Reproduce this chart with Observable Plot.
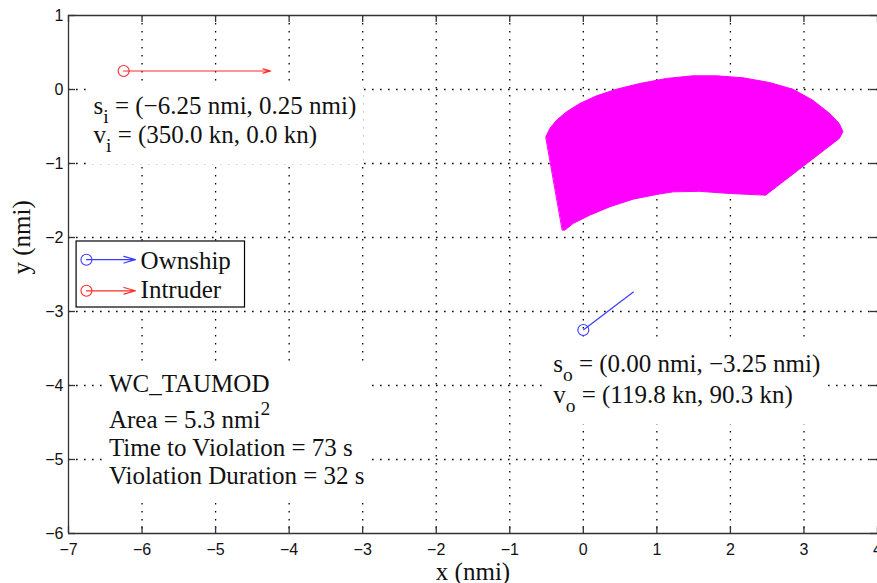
<!DOCTYPE html>
<html>
<head>
<meta charset="utf-8">
<script src="https://cdn.jsdelivr.net/npm/d3@7"></script>
<script src="https://cdn.jsdelivr.net/npm/@observablehq/plot@0.6"></script>
<style>
  html, body { margin: 0; padding: 0; background: #fff; }
  #chart { width: 877px; height: 583px; overflow: hidden; }
</style>
</head>
<body>
<div id="chart"></div>
<script>
// ---------- data ----------
const xTicks = [-7, -6, -5, -4, -3, -2, -1, 0, 1, 2, 3, 4];
const yTicks = [-6, -5, -4, -3, -2, -1, 0, 1];

// predicted violation region (nmi), traced clockwise from the upper-left corner
const regionX = [-0.509, -0.455, -0.364, -0.228, -0.048, 0.179, 0.451, 0.767, 1.13, 1.49, 1.81, 2.17, 2.53, 2.85,
                 3.12, 3.35, 3.48, 3.53, 3.48,
                 2.478, 1.99, 1.58, 1.22, 0.994, 0.676, 0.36, 0.088, -0.139, -0.251, -0.283];
const regionY = [-0.64, -0.527, -0.415, -0.302, -0.189, -0.086, 0.004, 0.081, 0.149, 0.185, 0.185, 0.158, 0.095, 0.004,
                 -0.145, -0.324, -0.46, -0.572, -0.662,
                 -1.428, -1.405, -1.376, -1.383, -1.419, -1.482, -1.585, -1.698, -1.81, -1.90, -1.90];

const aircraft = ["Ownship", "Intruder"];
const posX = [0.00, -6.25];
const posY = [-3.25, 0.25];
const velX = [119.8, 350.0];
const velY = [90.3, 0.0];
const arrowNmiPerKn = 2.0 / 350; // drawn velocity vector length (nmi per kn)

const intruderNote = ["s_{i} = (−6.25 nmi, 0.25 nmi)", "v_{i} = (350.0 kn, 0.0 kn)"];
const ownshipNote = ["s_{o} = (0.00 nmi, −3.25 nmi)", "v_{o} = (119.8 kn, 90.3 kn)"];
const metricNote = ["WC_TAUMOD", "Area = 5.3 nmi^{2}", "Time to Violation = 73 s", "Violation Duration = 32 s"];

// ---------- derived tables ----------
const region = regionX.map((x, i) => ({x, y: regionY[i]}));
const planes = aircraft.map((name, i) => ({
  name, x: posX[i], y: posY[i],
  x2: posX[i] + velX[i] * arrowNmiPerKn,
  y2: posY[i] + velY[i] * arrowNmiPerKn,
  color: name === "Ownship" ? "#3b3bff" : "#ff2a2a"
}));
const fmt = d => d < 0 ? "−" + Math.abs(d) : String(d);

// annotation anchors (data coordinates, left/baseline)
const noteRows = (lines, x, ys) => lines.map((t, i) => ({t, x, y: ys[i]}));
const intruderRows = noteRows(intruderNote, -6.66, [-0.333, -0.727]);
const ownshipRows = noteRows(ownshipNote, -0.41, [-3.82, -4.24]);
const metricRows = noteRows(metricNote, -6.45, [-4.09, -4.57, -4.95, -5.33]);

// legend (data coordinates inside the axes)
const legendRows = aircraft.map((name, i) => ({
  name, color: planes[i].color,
  y: [-2.30, -2.72][i], ty: [-2.42, -2.82][i]
}));

const W = 877, H = 583, mL = 68, mR = 0, mT = 15, mB = 50;
const innerW = W - mL - mR, innerH = H - mT - mB, tick = 7;
const serif = "Liberation Serif, Times New Roman, serif";
const sans = "Liberation Sans, Arial, Helvetica, sans-serif";
const fsNote = 25;

const chart = Plot.plot({
  width: W, height: H,
  marginLeft: mL, marginRight: mR, marginTop: mT, marginBottom: mB,
  x: {domain: [-7, 4], axis: null},
  y: {domain: [-6, 1], axis: null},
  style: {fontFamily: sans, fontSize: "16px", background: "#fff", overflow: "visible"},
  marks: [
    // dotted grid
    Plot.ruleX(xTicks.slice(1, -1), {stroke: "#000", strokeWidth: 1.3, strokeDasharray: "1.6,6.4"}),
    Plot.ruleY(yTicks.slice(1, -1), {stroke: "#000", strokeWidth: 1.3, strokeDasharray: "1.6,6.4"}),
    // violation region
    Plot.line(region, {x: "x", y: "y", curve: "linear-closed", fill: "#ff00ff", stroke: "#ff00ff", strokeWidth: 1, strokeLinejoin: "round"}),
    // velocity vectors
    Plot.arrow(planes.filter(d => d.name === "Intruder"), {x1: "x", y1: "y", x2: "x2", y2: "y2", stroke: "color", strokeWidth: 1.2, headLength: 10, headAngle: 30}),
    Plot.link(planes.filter(d => d.name === "Ownship"), {x1: "x", y1: "y", x2: "x2", y2: "y2", stroke: "color", strokeWidth: 1.2}),
    Plot.dot(planes, {x: "x", y: "y", r: 5.5, stroke: "color", fill: "none", strokeWidth: 1.1}),
    // annotation blocks
    Plot.text(intruderRows, {x: "x", y: "y", text: "t", textAnchor: "start", lineAnchor: "bottom", fontFamily: serif, fontSize: fsNote, fill: "#111", ariaDescription: "note-box"}),
    Plot.text(ownshipRows, {x: "x", y: "y", text: "t", textAnchor: "start", lineAnchor: "bottom", fontFamily: serif, fontSize: fsNote, fill: "#111", ariaDescription: "note-box"}),
    Plot.text(metricRows, {x: "x", y: "y", text: "t", textAnchor: "start", lineAnchor: "bottom", fontFamily: serif, fontSize: fsNote, fill: "#111", ariaDescription: "note-box"}),
    // legend
    Plot.rect([0], {x1: -6.89, x2: -4.60, y1: -2.054, y2: -2.946, fill: "#fff", stroke: "#000", strokeWidth: 1.2}),
    Plot.arrow(legendRows, {x1: -6.756, x2: -6.09, y1: "y", y2: "y", stroke: "color", strokeWidth: 1.2, headLength: 15, headAngle: 32}),
    Plot.dot(legendRows, {x: -6.756, y: "y", r: 5.5, stroke: "color", fill: "none", strokeWidth: 1.1}),
    Plot.text(legendRows, {x: -6.02, y: "ty", text: "name", textAnchor: "start", lineAnchor: "bottom", fontFamily: serif, fontSize: fsNote, fill: "#111"}),
    // axes box (left, top, bottom)
    Plot.ruleX([-7], {stroke: "#333", strokeWidth: 1.3}),
    Plot.ruleY([-6, 1], {stroke: "#333", strokeWidth: 1.3}),
    // inward ticks on all four sides
    Plot.ruleX(xTicks, {stroke: "#333", strokeWidth: 1.3, insetTop: innerH - tick}),
    Plot.ruleX(xTicks, {stroke: "#333", strokeWidth: 1.3, insetBottom: innerH - tick}),
    Plot.ruleY(yTicks, {stroke: "#333", strokeWidth: 1.3, insetRight: innerW - tick}),
    Plot.ruleY(yTicks, {stroke: "#333", strokeWidth: 1.3, insetLeft: innerW - tick}),
    // tick labels
    Plot.text(xTicks, {x: d => d, text: fmt, frameAnchor: "bottom", lineAnchor: "top", dy: 10, fontFamily: sans, fontSize: 16, fill: "#111"}),
    Plot.text(yTicks, {y: d => d, text: fmt, frameAnchor: "left", textAnchor: "end", lineAnchor: "middle", dx: -5, fontFamily: sans, fontSize: 16, fill: "#111"}),
    // axis labels
    Plot.text(["x (nmi)"], {text: d => d, frameAnchor: "bottom", lineAnchor: "bottom", dy: 46, fontFamily: serif, fontSize: 25, fill: "#111"}),
    Plot.text(["y (nmi)"], {text: d => d, frameAnchor: "left", lineAnchor: "bottom", rotate: -90, dx: -39, fontFamily: serif, fontSize: 25, fill: "#111"})
  ]
});

document.getElementById("chart").appendChild(chart);

// ---------- sub/superscripts as real tspans ----------
d3.select(chart).selectAll("text").each(function () {
  const s = this.textContent;
  if (!/[_^]\{/.test(s)) return;
  const fs = parseFloat(getComputedStyle(this).fontSize) || fsNote;
  const parts = [];
  const re = /([_^])\{([^}]*)\}/g;
  let last = 0, m;
  while ((m = re.exec(s))) {
    if (m.index > last) parts.push({t: s.slice(last, m.index), shift: 0, size: 1});
    parts.push({t: m[2], shift: m[1] === "_" ? 0.36 * fs : -0.5 * fs, size: 0.78});
    last = re.lastIndex;
  }
  if (last < s.length) parts.push({t: s.slice(last), shift: 0, size: 1});
  this.textContent = "";
  let cur = 0;
  for (const p of parts) {
    const ts = document.createElementNS("http://www.w3.org/2000/svg", "tspan");
    if (p.size !== 1) ts.setAttribute("font-size", (p.size * fs) + "px");
    const dy = p.shift - cur;
    if (dy) ts.setAttribute("dy", dy + "px");
    cur = p.shift;
    ts.textContent = p.t;
    this.appendChild(ts);
  }
});

// ---------- white backgrounds behind annotation blocks ----------
d3.select(chart).selectAll('g[aria-description="note-box"]').each(function () {
  const b = this.getBBox();
  const padX = 7, padY = 8;
  const r = document.createElementNS("http://www.w3.org/2000/svg", "rect");
  r.setAttribute("x", b.x - padX);
  r.setAttribute("y", b.y - padY);
  r.setAttribute("width", b.width + 2 * padX);
  r.setAttribute("height", b.height + 2 * padY);
  r.setAttribute("fill", "#fff");
  this.insertBefore(r, this.firstChild);
});
</script>
</body>
</html>
